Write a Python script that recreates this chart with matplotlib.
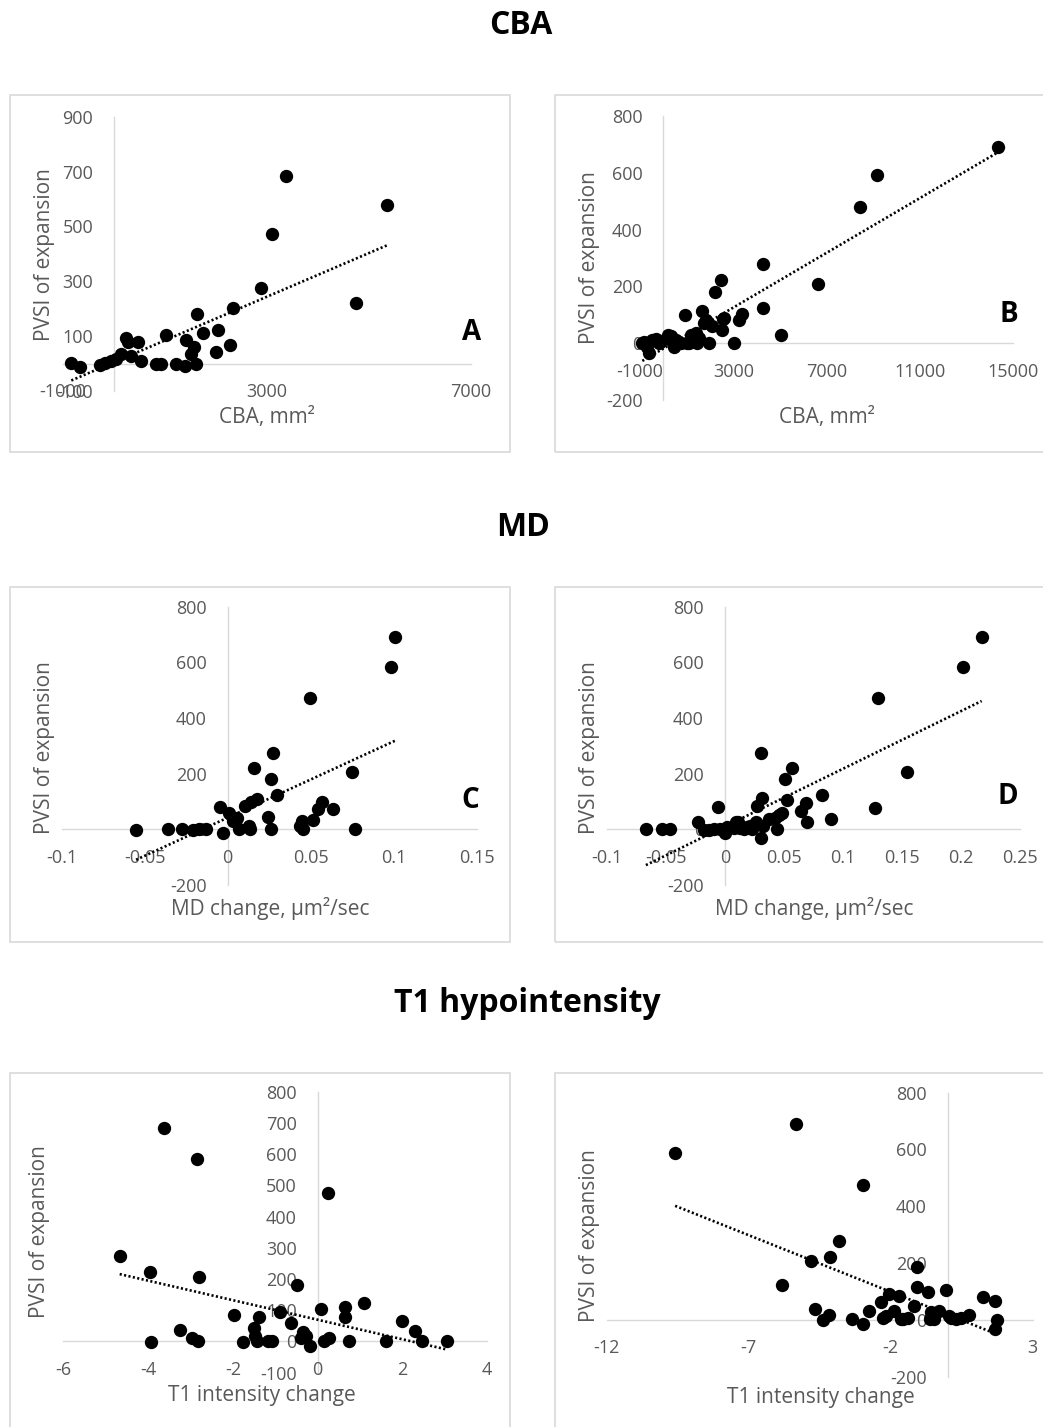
import matplotlib
matplotlib.use("Agg")
import matplotlib.pyplot as plt
from matplotlib.patches import Rectangle
import numpy as np

plt.rcParams["font.family"] = ["Open Sans", "DejaVu Sans"]

W, H = 1043, 1427
GREY = "#595959"
AXIS_GREY = "#d9d9d9"

# ---- panel A: CBA (left) ----
a_x = [-837, -673, -281, -183, -52, 46, 144, 229, 275, 340, 471, 536, 830, 928,
       1013, 1222, 1386, 1418, 1516, 1562, 1601, 1627, 1745, 1993, 2039, 2268,
       2333, 2889, 3105, 3366, 4739, 5353]
a_y = [2, -14, -4, 2, 8, 18, 36, 94, 78, 26, 78, 8, 0, 0, 104, 0, -8, 86, 36, 60,
       0, 182, 110, 42, 122, 66, 204, 274, 471, 682, 221, 579]
a_trend = (0.0796, 5)

# ---- panel B: CBA (right) ----
b_x = [-900, -814, -686, -614, -471, -329, -186, -100, 186, 314, 357, 400, 457,
       529, 671, 757, 929, 1029, 1114, 1171, 1243, 1329, 1386, 1457, 1529, 1671,
       1743, 1829, 1886, 1957, 2100, 2229, 2471, 2529, 2543, 2600, 3029, 3243,
       3386, 4271, 4286, 5029, 6614, 8443, 9157, 14371]
b_y = [0, 5, -12, -35, 12, 14, 0, 9, 29, 24, 12, 0, -12, 12, 0, 0, 100, 2, 0, 29,
       12, 18, 35, 2, 18, 112, 71, 82, 76, 2, 59, 182, 224, 47, 85, 88, 0, 82,
       104, 124, 280, 29, 208, 479, 591, 692]
b_trend = (0.04815, -19)

# ---- panel C: MD (left) ----
c_x = [-0.0552, -0.0357, -0.0277, -0.0207, -0.0171, -0.0131, -0.0046, -0.003,
       0.001, 0.0034, 0.0058, 0.007, 0.0104, 0.013, 0.0135, 0.0139, 0.0159,
       0.0179, 0.0245, 0.0259, 0.0259, 0.0271, 0.0299, 0.0436, 0.0446, 0.0456,
       0.0496, 0.0516, 0.0546, 0.0566, 0.0637, 0.0747, 0.0767, 0.0982, 0.1008]
c_y = [-2, 0, 0, -2, 0, 2, 80, -14, 60, 30, 42, 0, 84, 12, 0, 98, 222, 108, 46,
       180, 0, 275, 122, 12, 30, 2, 473, 34, 72, 98, 74, 206, 0, 584, 692]
c_trend = (2742, 42)

# ---- panel D: MD (right) ----
d_x = [-0.0668, -0.053, -0.046, -0.0227, -0.0177, -0.0135, -0.0093, -0.0055,
       -0.0037, 0, 0.002, 0.0076, 0.0093, 0.011, 0.0132, 0.0163, 0.0192, 0.0211,
       0.0234, 0.0262, 0.0276, 0.0307, 0.0307, 0.0318, 0.0324, 0.0375, 0.0428,
       0.0445, 0.0456, 0.0487, 0.0513, 0.0527, 0.0569, 0.0645, 0.069, 0.0696,
       0.0823, 0.0901, 0.1273, 0.1301, 0.1541, 0.202, 0.2175]
d_y = [0, 0, 0, 28, -2, -2, 0, 79, 2, -14, 8, 6, 26, 26, 4, 2, 8, 12, 2, 26, 85,
       273, -30, 114, 12, 36, 42, 2, 50, 60, 180, 104, 222, 66, 96, 26, 122, 36,
       77, 473, 206, 584, 692]
d_trend = (2074, 10)

# ---- panel E: T1 hypointensity (left) ----
e_x = [-4.67, -3.96, -3.92, -3.62, -3.24, -2.96, -2.85, -2.82, -2.80, -1.98,
       -1.76, -1.51, -1.49, -1.44, -1.39, -1.18, -1.07, -0.89, -0.63, -0.49,
       -0.39, -0.34, -0.27, -0.18, 0.08, 0.16, 0.24, 0.27, 0.65, 0.65, 0.73,
       1.10, 1.62, 1.98, 2.30, 2.47, 3.04]
e_y = [275, 224, -3, 685, 37, 11, 583, 0, 206, 85, -2, 43, 16, 0, 78, 0, 0, 96,
       59, 181, 11, 29, 16, -14, 103, 0, 475, 11, 110, 80, 0, 123, 0, 67, 35, 0, 0]
e_trend = (-31.3, 69.6)

# ---- panel F: T1 hypointensity (right) ----
f_x = [-9.59, -5.81, -5.34, -4.80, -4.66, -4.40, -4.17, -4.14, -3.81, -3.38,
       -2.97, -2.97, -2.75, -2.34, -2.28, -2.07, -1.87, -1.72, -1.64, -1.40,
       -1.17, -1.07, -1.07, -0.67, -0.58, -0.47, -0.29, -0.06, 0.12, 0.47,
       0.74, 1.25, 1.67, 1.75, 1.69, -1.55, -0.62, 0.04, 0.30, -2.18]
f_y = [587, 123, 690, 207, 37, 0, 16, 222, 277, 2, 476, -15, 33, 62, 6, 91, 33,
       83, 4, 6, 50, 185, 115, 97, 27, 4, 33, 105, 6, 6, 18, 82, 68, 0, -32, 2,
       2, 14, 4, 12]
f_trend = (-39.9, 19)

cba_xticks = [-1000, 3000, 7000]
cba_b_xticks = [-1000, 3000, 7000, 11000, 15000]
md_c_xticks = ["-0.1", "-0.05", "0", "0.05", "0.1", "0.15"]
md_d_xticks = ["-0.1", "-0.05", "0", "0.05", "0.1", "0.15", "0.2", "0.25"]
t1_e_xticks = [-6, -4, -2, 0, 2, 4]
t1_f_xticks = [-12, -7, -2, 3]

section_titles = ["CBA", "MD", "T1 hypointensity"]
y_title = "PVSI of expansion"


def fx(px):
    return px / W


def fy(py):
    return 1 - py / H


def panel(fig, box, frame, x, y, trend, xlim, ylim, xticks, yticks,
          xtitle, xt_pos, yt_pos, letter=None, letter_pos=None):
    x0, y0, x1, y1 = box
    ax = fig.add_axes([fx(x0), fy(y1), (x1 - x0) / W, (y1 - y0) / H])
    ax.patch.set_alpha(0)
    ax.set_xlim(*xlim)
    ax.set_ylim(*ylim)
    for s in ("top", "right"):
        ax.spines[s].set_visible(False)
    for s in ("left", "bottom"):
        ax.spines[s].set_position(("data", 0))
        ax.spines[s].set_color(AXIS_GREY)
        ax.spines[s].set_linewidth(1.0)
        ax.spines[s].set_zorder(1)
    ax.set_xticks([float(t) for t in xticks])
    ax.set_xticklabels([str(t) for t in xticks])
    ax.set_yticks(yticks)
    ax.set_yticklabels([str(t) for t in yticks])
    ax.tick_params(length=0, labelsize=13, labelcolor=GREY)
    ax.tick_params(axis="x", pad=14)
    ax.tick_params(axis="y", pad=15)

    ax.scatter(x, y, s=92, color="black", linewidths=0, zorder=3,
               clip_on=False)
    xs = np.array([min(x), max(x)])
    ax.plot(xs, trend[0] * xs + trend[1], color="black", lw=1.9,
            ls=(0, (0.8, 0.9)), zorder=4)

    fig.text(fx(xt_pos[0]), fy(xt_pos[1]), xtitle, ha="center", va="center",
             fontsize=15, color=GREY)
    fig.text(fx(yt_pos[0]), fy(yt_pos[1]), y_title, ha="center", va="center",
             rotation=90, fontsize=15, color=GREY)
    if letter:
        fig.text(fx(letter_pos[0]), fy(letter_pos[1]), letter, ha="center",
                 va="center", fontsize=20, fontweight="bold", color="black")

    l, t, r, b = frame
    fig.add_artist(Rectangle((fx(l), fy(b)), (r - l) / W, (b - t) / H,
                             transform=fig.transFigure, fill=False,
                             edgecolor=AXIS_GREY, lw=1.2))
    return ax


fig = plt.figure(figsize=(W / 100, H / 100), dpi=100)

fig.text(fx(521), fy(25), section_titles[0], ha="center", va="center",
         fontsize=23, fontweight="bold")
fig.text(fx(523), fy(527), section_titles[1], ha="center", va="center",
         fontsize=23, fontweight="bold")
fig.text(fx(527), fy(1003), section_titles[2], ha="center", va="center",
         fontsize=23, fontweight="bold")

panel(fig, (63, 116.7, 471, 391), (10, 95, 510, 452), a_x, a_y, a_trend,
      (-1000, 7000), (-100, 900), cba_xticks, [-100, 100, 300, 500, 700, 900],
      "CBA, mm\u00b2", (267, 418), (45, 255), "A", (472, 332))
panel(fig, (640, 116, 1013, 400), (555, 95, 1060, 452), b_x, b_y, b_trend,
      (-1000, 15000), (-200, 800), cba_b_xticks, [-200, 0, 200, 400, 600, 800],
      "CBA, mm\u00b2", (827, 418), (590, 258), "B", (1009, 315))
panel(fig, (61.7, 606.7, 476.7, 885), (10, 587, 510, 942), c_x, c_y, c_trend,
      (-0.1, 0.15), (-200, 800), md_c_xticks, [-200, 0, 200, 400, 600, 800],
      "MD change, \u03bcm\u00b2/sec", (270, 908), (45, 748), "C", (470, 801))
panel(fig, (606.7, 606.7, 1020, 885), (555, 587, 1060, 942), d_x, d_y, d_trend,
      (-0.1, 0.25), (-200, 800), md_d_xticks, [-200, 0, 200, 400, 600, 800],
      "MD change, \u03bcm\u00b2/sec", (814, 908), (590, 748), "D", (1008, 796))
panel(fig, (63.3, 1091.7, 487.3, 1372.7), (10, 1073, 510, 1440), e_x, e_y,
      e_trend, (-6, 4), (-100, 800), t1_e_xticks,
      [-100, 0, 100, 200, 300, 400, 500, 600, 700, 800],
      "T1 intensity change", (262, 1395), (40, 1232))
panel(fig, (606.7, 1092.7, 1032.7, 1376.7), (555, 1073, 1060, 1440), f_x, f_y,
      f_trend, (-12, 3), (-200, 800), t1_f_xticks,
      [-200, 0, 200, 400, 600, 800],
      "T1 intensity change", (821, 1397), (590, 1236))

fig.savefig("out.png", dpi=100)
